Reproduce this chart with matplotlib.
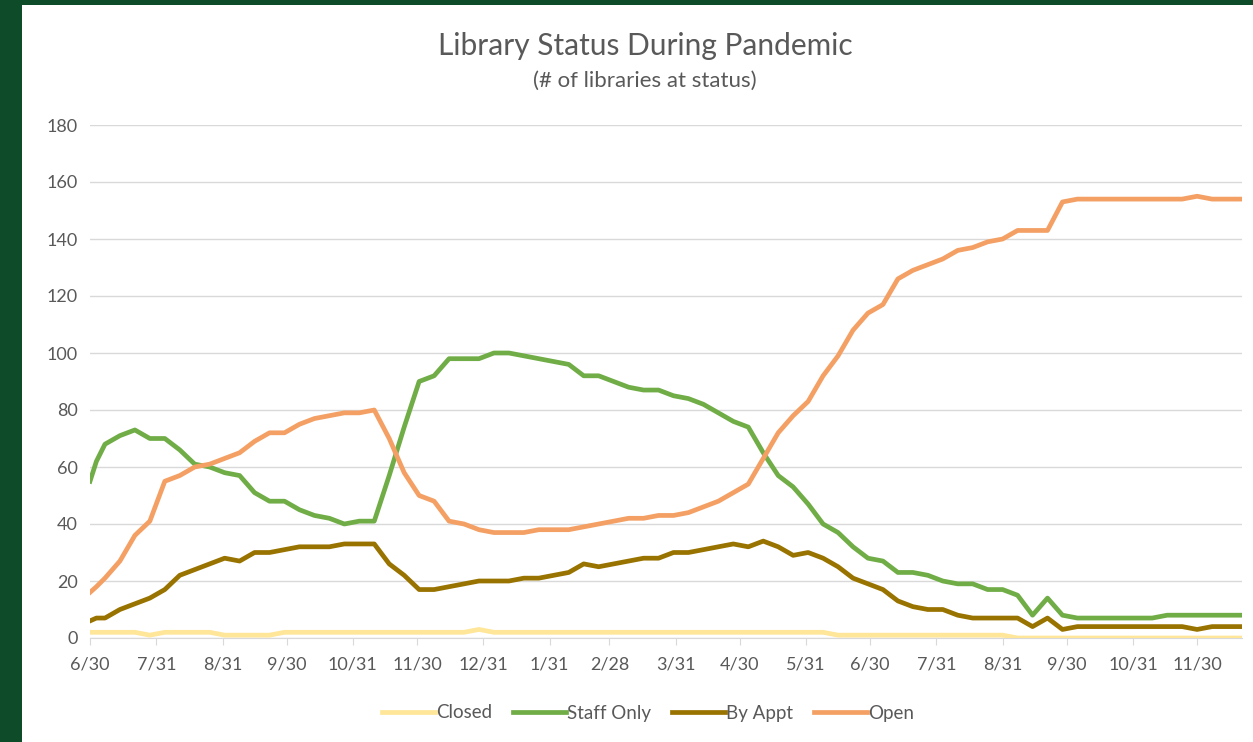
import matplotlib
matplotlib.use("Agg")
import matplotlib.pyplot as plt
from matplotlib.patches import Rectangle
import pandas as pd

plt.rcParams['font.family'] = ['Lato', 'DejaVu Sans']

# weekly snapshots, plus one extra early reading on 7/3
dates = pd.date_range('2020-06-30', periods=78, freq='7D').insert(1, pd.Timestamp('2020-07-03'))

closed = [2, 2, 2, 2, 2, 1, 2, 2, 2, 2, 1, 1, 1, 1,
          2, 2, 2, 2, 2, 2, 2, 2, 2, 2, 2, 2, 2, 3,
          2, 2, 2, 2, 2, 2, 2, 2, 2, 2, 2, 2, 2, 2, 2, 2, 2, 2, 2, 2, 2, 2, 2,
          1, 1, 1, 1, 1, 1, 1, 1, 1, 1, 1, 1,
          0, 0, 0, 0, 0, 0, 0, 0, 0, 0, 0, 0, 0, 0, 0, 0]
staff_only = [55, 62, 68, 71, 73, 70, 70, 66, 61, 60, 58, 57, 51, 48, 48, 45, 43, 42, 40, 41,
              41, 57, 74, 90, 92, 98, 98, 98, 100, 100, 99, 98, 97, 96, 92, 92, 90, 88, 87, 87,
              85, 84, 82, 79, 76, 74, 65, 57, 53, 47, 40, 37, 32, 28, 27, 23, 23, 22, 20, 19,
              19, 17, 17, 15, 8, 14, 8, 7, 7, 7, 7, 7, 7, 8, 8, 8, 8, 8, 8]
by_appt = [6, 7, 7, 10, 12, 14, 17, 22, 24, 26, 28, 27, 30, 30, 31, 32, 32, 32, 33, 33,
           33, 26, 22, 17, 17, 18, 19, 20, 20, 20, 21, 21, 22, 23, 26, 25, 26, 27, 28, 28,
           30, 30, 31, 32, 33, 32, 34, 32, 29, 30, 28, 25, 21, 19, 17, 13, 11, 10, 10, 8,
           7, 7, 7, 7, 4, 7, 3, 4, 4, 4, 4, 4, 4, 4, 4, 3, 4, 4, 4]
open_ = [16, 18, 21, 27, 36, 41, 55, 57, 60, 61, 63, 65, 69, 72, 72, 75, 77, 78, 79, 79,
         80, 70, 58, 50, 48, 41, 40, 38, 37, 37, 37, 38, 38, 38, 39, 40, 41, 42, 42, 43,
         43, 44, 46, 48, 51, 54, 63, 72, 78, 83, 92, 99, 108, 114, 117, 126, 129, 131, 133, 136,
         137, 139, 140, 143, 143, 143, 153, 154, 154, 154, 154, 154, 154, 154, 154, 155, 154, 154, 154]

series = [
    ('Closed', closed, '#FFE699'),
    ('Staff Only', staff_only, '#70AD47'),
    ('By Appt', by_appt, '#997300'),
    ('Open', open_, '#F4A064'),
]

month_ends = pd.date_range('2020-06-30', '2021-11-30', freq='ME')
tick_labels = [f"{d.month}/{d.day}" for d in month_ends]

W, H = 1253, 742
fig = plt.figure(figsize=(W / 100, H / 100), dpi=100, facecolor='#0E4B29')
# white card sitting inside the dark green frame
fig.patches.append(Rectangle((22 / W, 0), 1 - 22 / W, 737 / H, transform=fig.transFigure,
                             facecolor='white', edgecolor='none', zorder=-10))

ax = fig.add_axes([90 / W, 104 / H, 1152 / W, 513 / H])
ax.set_facecolor('none')

for name, vals, color in series:
    ax.plot(dates, vals, color=color, lw=3.4, label=name, solid_joinstyle='round', zorder=3)

ax.set_ylim(0, 180)
ax.set_yticks(range(0, 181, 20))
ax.set_xlim(dates[0], dates[-1])
ax.set_xticks(month_ends)
ax.set_xticklabels(tick_labels)

ax.grid(axis='y', color='#D9D9D9', lw=1)
ax.set_axisbelow(True)
for s in ['top', 'right', 'left']:
    ax.spines[s].set_visible(False)
ax.spines['bottom'].set_color('#D9D9D9')
ax.tick_params(axis='y', length=0, pad=9, labelsize=13, labelcolor='#595959')
ax.tick_params(axis='x', length=5, color='#D9D9D9', pad=8, labelsize=13, labelcolor='#595959')

fig.text(645 / W, 1 - 46 / H, 'Library Status During Pandemic', ha='center', va='center',
         fontsize=21.5, color='#595959')
fig.text(645 / W, 1 - 81 / H, '(# of libraries at status)', ha='center', va='center',
         fontsize=16, color='#595959')

fig.legend(loc='center', bbox_to_anchor=(648 / W, 1 - 713 / H), ncol=4, frameon=False,
           fontsize=13.5, labelcolor='#595959', handlelength=2.8, handletextpad=0.05,
           columnspacing=1.15)

fig.savefig('out.png', dpi=100, facecolor=fig.get_facecolor())
